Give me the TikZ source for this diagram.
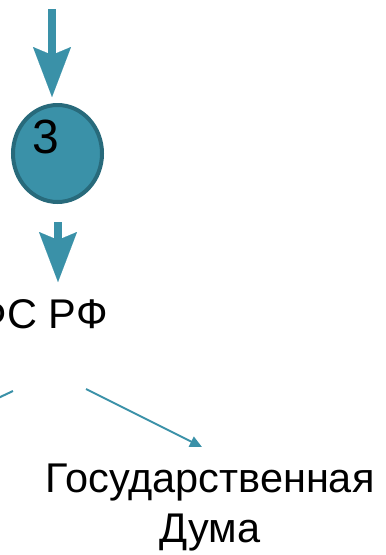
\documentclass[tikz,border=0pt]{standalone}
\usepackage{fontspec}
\setmainfont{Liberation Sans}
\usetikzlibrary{arrows.meta,shapes.geometric}
\definecolor{teal1}{HTML}{3A91A8}
\definecolor{teal2}{HTML}{286A7B}
\tikzset{
  bigarrow/.style={draw=teal1, line width=8pt,
    -{Stealth[length=50pt, width=38pt, inset=8pt, line width=0.01pt]}},
  thinarrow/.style={draw=teal1, line width=2pt,
    -{Triangle[length=12pt, width=11pt]}},
  thinline/.style={draw=teal1, line width=2pt},
  bigtext/.style={font=\fontsize{41.5}{50}\selectfont, inner sep=0pt},
}
\begin{document}
\begin{tikzpicture}[x=1pt, y=-1pt]
\useasboundingbox (0,0) rectangle (386,555);
% circle node
\node[ellipse, draw=teal2, fill=teal1, line width=4pt,
      minimum width=89pt, minimum height=97pt, inner sep=0pt] (c) at (57.5,153.5) {};
\node[font=\fontsize{48}{48}\selectfont, inner sep=0pt, anchor=base] (n3) at (46,153) {3};
% top arrow
\coordinate (a1s) at (52,9);
\coordinate (a1e) at (52,97);
\draw[bigarrow] (a1s) -- (a1e);
% second arrow
\coordinate (a2s) at (58,222);
\coordinate (a2e) at (58,282);
\draw[bigarrow] (a2s) -- (a2e);
% text FS RF
\node[bigtext, anchor=base east] (fs) at (108,328) {ФС РФ};
% left line (to off-picture node)
\coordinate (l1s) at (13,391);
\coordinate (l1e) at (-40,416);
\draw[thinline] (l1s) -- (l1e);
% right arrow
\coordinate (r1s) at (86,389);
\coordinate (r1e) at (202,447);
\draw[thinarrow] (r1s) -- (r1e);
% Duma
\node[bigtext, align=center, anchor=base] (gd) at (210,542) {Государственная\\Дума};
\end{tikzpicture}
\end{document}
